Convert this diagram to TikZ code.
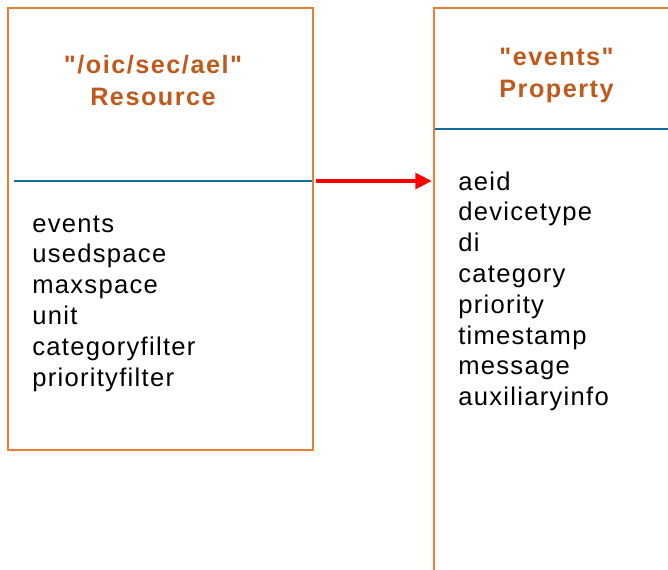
\documentclass[tikz,border=0pt]{standalone}
\usepackage{fontspec}
\newfontfamily\bodyfont{Liberation Sans}[LetterSpace=5]
\newfontfamily\headfont{Liberation Sans}[LetterSpace=6]
\usetikzlibrary{fit,arrows.meta}
\definecolor{boxorange}{RGB}{237,125,49}
\definecolor{titlebrown}{RGB}{192,90,28}
\definecolor{divblue}{RGB}{22,108,158}
\definecolor{arrowred}{RGB}{255,0,0}
\tikzset{
  box/.style={draw=boxorange, line width=1.9pt, inner sep=0pt, fill=none},
  divider/.style={draw=divblue, line width=1.8pt},
  title/.style={text=titlebrown, font=\headfont\bfseries\fontsize{18.9}{24}\selectfont, anchor=base, inner sep=0pt},
  item/.style={font=\bodyfont\fontsize{19.2}{23}\selectfont, anchor=base west, inner sep=0pt},
  link/.style={draw=arrowred, line width=3.3pt, -{Triangle[length=12.5pt,width=11.5pt]}}
}
\begin{document}
\begin{tikzpicture}[x=0.75pt,y=-0.75pt]
\useasboundingbox (0,0) rectangle (668,569);
\clip (0,0) rectangle (668,569);
\fill[white] (0,0) rectangle (668,569);
% left box
\coordinate (la) at (8,8);
\coordinate (lb) at (313,450);
\node[box, fit=(la)(lb)] (res) {};
\coordinate (ldl) at (14,181);
\coordinate (ldr) at (312,181);
\draw[divider] (ldl) -- (ldr);
\node[title] (rt1) at (153,73) {"/oic/sec/ael"};
\node[title] (rt2) at (153,105) {Resource};
\foreach \t [count=\i] in {events,usedspace,maxspace,unit,categoryfilter,priorityfilter}
  \node[item] (l\i) at (32,{232+30.8*(\i-1)}) {\t};
% right box
\coordinate (ra) at (434,8);
\coordinate (rb) at (720,620);
\node[box, fit=(ra)(rb)] (prop) {};
\coordinate (rdl) at (435,129);
\coordinate (rdr) at (668,129);
\draw[divider] (rdl) -- (rdr);
\node[title] (pt1) at (556.5,65) {"events"};
\node[title] (pt2) at (556.5,97) {Property};
\foreach \t [count=\i] in {aeid,devicetype,di,category,priority,timestamp,message,auxiliaryinfo}
  \node[item] (r\i) at (458,{190+30.8*(\i-1)}) {\t};
% arrow
\coordinate (as) at (316,181);
\coordinate (ae) at (432,181);
\draw[link] (as) -- (ae);
\end{tikzpicture}
\end{document}
